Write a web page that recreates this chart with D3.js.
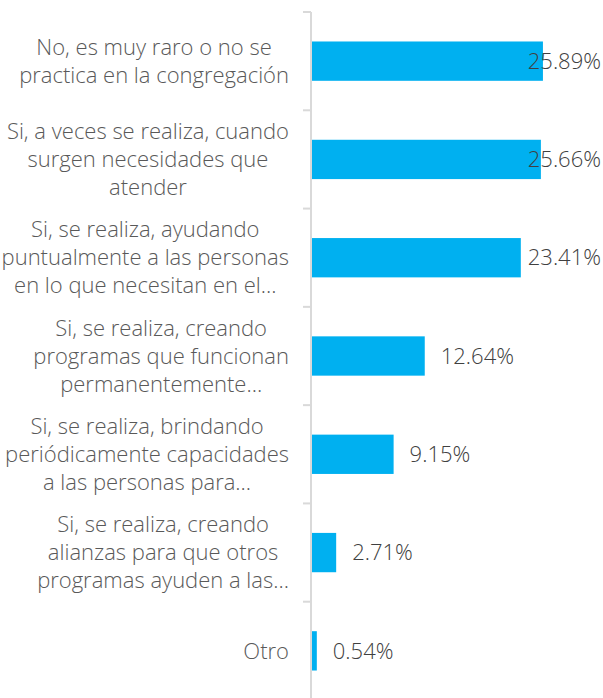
<!DOCTYPE html>
<html>
<head>
<meta charset="utf-8">
<script src="https://cdn.jsdelivr.net/npm/d3@7"></script>
<style>
  body { margin: 0; background: #fff; }
  text { font-family: "Open Sans", sans-serif; font-weight: 300; }
</style>
</head>
<body>
<svg id="chart" width="603" height="698"></svg>
<script>
// category labels, already split into lines as shown
var categories = [
  ["No, es muy raro o no se", "practica en la congregación"],
  ["Si, a veces se realiza, cuando", "surgen necesidades que", "atender"],
  ["Si, se realiza, ayudando", "puntualmente a las personas", "en lo que necesitan en el…"],
  ["Si, se realiza, creando", "programas que funcionan", "permanentemente…"],
  ["Si, se realiza, brindando", "periódicamente capacidades", "a las personas para…"],
  ["Si, se realiza, creando", "alianzas para que otros", "programas ayuden a las…"],
  ["Otro"]
];
var values = [25.89, 25.66, 23.41, 12.64, 9.15, 2.71, 0.54];
var valueLabels = ["25.89%", "25.66%", "23.41%", "12.64%", "9.15%", "2.71%", "0.54%"];

var svg = d3.select("#chart");
var axisX = 311, plotTop = 12, plotBottom = 700, rightEdge = 601;
var fontSize = 22, lineH = 28;

var y = d3.scaleBand()
    .domain(d3.range(categories.length))
    .range([plotTop, plotBottom])
    .paddingInner(0.6)
    .paddingOuter(0.3);

var x = d3.scaleLinear()
    .domain([0, 30])
    .range([axisX + 1, axisX + 1 + 8.92 * 30]);

// bars
svg.selectAll("rect.bar")
    .data(values)
  .enter().append("rect")
    .attr("class", "bar")
    .attr("x", x(0))
    .attr("y", function(d, i) { return y(i); })
    .attr("width", function(d) { return x(d) - x(0); })
    .attr("height", y.bandwidth())
    .attr("fill", "#00b0f0");

// axis line with ticks between categories
var step = (plotBottom - plotTop) / categories.length;
svg.append("line")
    .attr("x1", axisX).attr("x2", axisX)
    .attr("y1", plotTop).attr("y2", plotBottom)
    .attr("stroke", "#d9d9d9").attr("stroke-width", 2);
svg.selectAll("line.tick")
    .data(d3.range(categories.length + 1))
  .enter().append("line")
    .attr("class", "tick")
    .attr("x1", axisX - 8).attr("x2", axisX)
    .attr("y1", function(d) { return plotTop + d * step; })
    .attr("y2", function(d) { return plotTop + d * step; })
    .attr("stroke", "#d9d9d9").attr("stroke-width", 2);

// category labels: centred block, widest line flush right
var labelRight = 289;
var groups = svg.selectAll("g.cat")
    .data(categories)
  .enter().append("g")
    .attr("class", "cat");

groups.each(function(lines, i) {
  var g = d3.select(this);
  var cy = y(i) + y.bandwidth() / 2;
  var t = g.append("text")
      .attr("text-anchor", "middle")
      .attr("font-size", fontSize)
      .attr("fill", "#595959");
  lines.forEach(function(l, k) {
    t.append("tspan")
      .attr("x", 0)
      .attr("y", cy + (k - (lines.length - 1) / 2) * lineH)
      .attr("dy", "0.35em")
      .text(l);
  });
  var w = 0;
  t.selectAll("tspan").each(function() { w = Math.max(w, this.getComputedTextLength()); });
  t.attr("transform", "translate(" + (labelRight - w / 2) + ",0)");
});

// value labels, pushed back inside the chart edge when they overflow
svg.selectAll("text.val")
    .data(values)
  .enter().append("text")
    .attr("class", "val")
    .attr("y", function(d, i) { return y(i) + y.bandwidth() / 2; })
    .attr("dy", "0.35em")
    .attr("font-size", fontSize)
    .attr("fill", "#404040")
    .text(function(d, i) { return valueLabels[i]; })
    .attr("x", function(d) {
      var w = this.getComputedTextLength();
      return Math.min(x(d) + 16, rightEdge - w);
    });
</script>
</body>
</html>
